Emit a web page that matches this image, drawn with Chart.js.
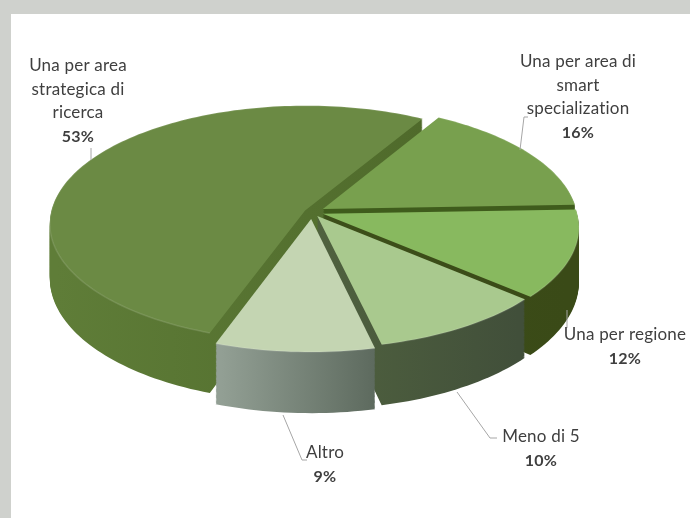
<!DOCTYPE html>
<html>
<head>
<meta charset="utf-8">
<title>Chart</title>
<script src="https://cdn.jsdelivr.net/npm/chart.js@4"></script>
<style>
  html, body { margin: 0; padding: 0; background: #cfd1cd; }
  #panel { position: absolute; left: 11px; top: 14px; width: 679px; height: 504px; background: #fff; }
  #chart { position: absolute; left: 0; top: 0; }
</style>
</head>
<body>
<div id="panel"></div>
<canvas id="chart" width="690" height="518"></canvas>
<script>
// values
const categories = [
  ['Una per area', 'strategica di', 'ricerca'],
  ['Una per area di', 'smart', 'specialization'],
  ['Una per regione'],
  ['Meno di 5'],
  ['Altro']
];
const shares = [53, 16, 12, 10, 9];

const topColors = ['#6b8a44', '#78a04e', '#88b95f', '#a9c98e', '#c4d5b2'];
const wallLeft = ['#5f7d38', '#3f5c1c', '#3d4f1a', '#50623f', '#929f94'];
const wallRight = ['#4f6a2b', '#3f5c1c', '#3a4a17', '#414f3a', '#5d6a5e'];
const explode = [0.03, 0.05, 0.045, 0.04, 0.06];

// label anchors: x centre, y of first line, leader line
const labelBoxes = [
  { x: 78, y: 66, line: [[91, 148], [91, 160]] },
  { x: 578, y: 62, line: [[520, 150], [524, 117], [528, 117]] },
  { x: 625, y: 335, line: [[567, 310], [567, 328]] },
  { x: 541, y: 437, line: [[457, 392], [490, 438], [497, 438]] },
  { x: 325, y: 453, line: [[283, 415], [302, 460], [307, 460]] }
];

// view of the tilted disc
const view = { cx: 312, cy: 212, w: 254, h: 116.7, p: 0.11, depth: 54 };

function project(u, v, z) {
  const k = 1 / (1 - view.p * v);
  return [view.cx + view.w * u * k, view.cy + (view.h * v + view.depth * z) * k];
}

// outline of one slice from the angles the doughnut controller worked out
function slicePath(ctx, arc, i, z, rimOnly) {
  const { startAngle, endAngle } = arc.getProps(['startAngle', 'endAngle'], true);
  const mid = (startAngle + endAngle) / 2;
  const ox = Math.cos(mid) * explode[i];
  const oy = Math.sin(mid) * explode[i];
  ctx.beginPath();
  let p = project(ox, oy, z);
  if (!rimOnly) ctx.moveTo(p[0], p[1]);
  const steps = Math.ceil((endAngle - startAngle) * 40);
  for (let s = 0; s <= steps; s++) {
    const a = startAngle + (endAngle - startAngle) * s / steps;
    p = project(ox + Math.cos(a), oy + Math.sin(a), z);
    ctx.lineTo(p[0], p[1]);
  }
  if (!rimOnly) ctx.closePath();
}

const tiltedPie = {
  id: 'tiltedPie',
  beforeDatasetDraw(chart) {
    const ctx = chart.ctx;
    const arcs = chart.getDatasetMeta(0).data;
    arcs.forEach((arc, i) => {
      const xs = [];
      const { startAngle, endAngle } = arc.getProps(['startAngle', 'endAngle'], true);
      for (let a = startAngle; a <= endAngle; a += 0.05) xs.push(project(Math.cos(a), Math.sin(a), 0)[0]);
      xs.push(view.cx);
      const grad = ctx.createLinearGradient(Math.min(...xs), 0, Math.max(...xs), 0);
      grad.addColorStop(0, wallLeft[i]);
      grad.addColorStop(1, wallRight[i]);
      ctx.fillStyle = grad;
      for (let z = 1; z > 0; z -= 0.02) {
        slicePath(ctx, arc, i, z);
        ctx.fill();
      }
      ctx.fillStyle = topColors[i];
      slicePath(ctx, arc, i, 0);
      ctx.fill();
      // soft bevel along the rim
      ctx.strokeStyle = 'rgba(255,255,255,0.12)';
      ctx.lineWidth = 1.5;
      slicePath(ctx, arc, i, 0, true);
      ctx.stroke();
    });
    return false;
  },
  afterDraw(chart) {
    const ctx = chart.ctx;
    ctx.save();
    ctx.strokeStyle = '#a6a6a6';
    ctx.lineWidth = 1;
    labelBoxes.forEach(b => {
      ctx.beginPath();
      b.line.forEach((pt, j) => j ? ctx.lineTo(pt[0], pt[1]) : ctx.moveTo(pt[0], pt[1]));
      ctx.stroke();
    });
    ctx.textAlign = 'center';
    ctx.textBaseline = 'middle';
    ctx.fillStyle = '#3f3f3f';
    ctx.letterSpacing = '0.2px';
    categories.forEach((lines, i) => {
      const b = labelBoxes[i];
      ctx.font = '17px Lato';
      lines.forEach((t, j) => ctx.fillText(t, b.x, b.y + j * 23.5));
      ctx.font = 'bold 16px Lato';
      ctx.fillText(shares[i] + '%', b.x, b.y + lines.length * 23.5);
    });
    ctx.restore();
  }
};

new Chart(document.getElementById('chart').getContext('2d'), {
  type: 'pie',
  data: {
    labels: categories.map(c => c.join(' ')),
    datasets: [{ data: shares, backgroundColor: topColors, borderWidth: 0 }]
  },
  options: {
    responsive: false,
    animation: false,
    rotation: 199.5,
    plugins: { legend: { display: false }, tooltip: { enabled: false } }
  },
  plugins: [tiltedPie]
});
</script>
</body>
</html>
